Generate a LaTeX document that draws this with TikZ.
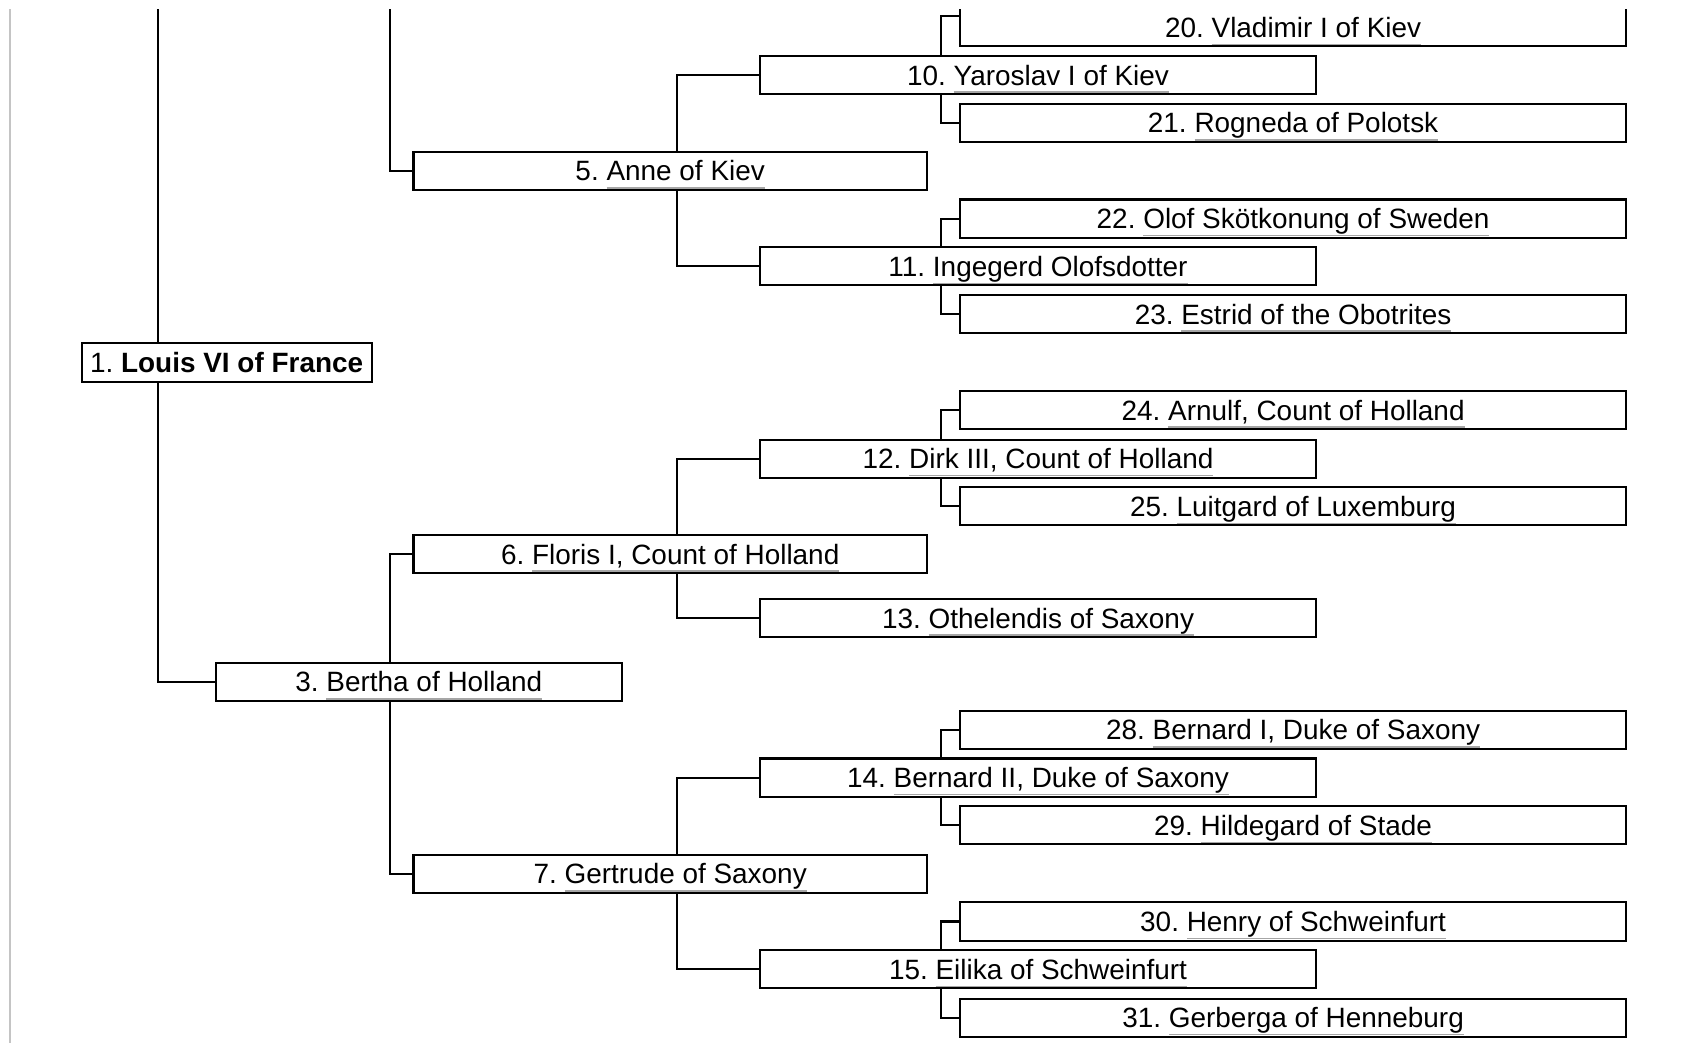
\documentclass[tikz,border=0pt]{standalone}
\usepackage{fontspec}
\setmainfont{Liberation Sans}
\usetikzlibrary{calc}
\definecolor{ulgray}{HTML}{A6A6A6}
\definecolor{edgegray}{HTML}{C4C4C4}
\newcommand\nm[1]{\setbox0\hbox{#1}\rlap{\color{ulgray}\rule[-3.65pt]{\wd0}{0.75pt}}\box0}
\begin{document}
\begin{tikzpicture}[x=0.5pt,y=-0.5pt,
  pbox/.style={draw, line width=0.95pt, inner sep=0pt, outer sep=0pt,
    minimum height=17.75pt, text height=9.3pt, text depth=0pt,
    font=\fontsize{13pt}{15pt}\selectfont\frenchspacing},
  lvA/.style={pbox, minimum width=135pt},
  lvB/.style={pbox, minimum width=189pt},
  lvC/.style={pbox, minimum width=239pt},
  lvD/.style={pbox, minimum width=258.5pt},
  lvE/.style={pbox, minimum width=310pt},
  conn/.style={draw, line width=0.95pt}]
\useasboundingbox (0,0) rectangle (1568,971);
\begin{scope}
\clip (0,9) rectangle (1568,971);
\draw[edgegray, line width=1pt] (9.5,0) -- (9.5,971);
\coordinate (top) at (0,0);
\coordinate (x147) at (147,0);
\coordinate (x363) at (363,0);
\coordinate (x630) at (630,0);
\coordinate (x876) at (876,0);
% level 1
\node[lvA] (b1) at (211,337.5) {1. \textbf{Louis VI of France}};
% level 2
\node[lvB] (b3) at (390,635) {3. \nm{Bertha of Holland}};
% level 3
\node[lvC] (b5) at (624,159) {5. \nm{Anne of Kiev}};
\node[lvC] (b6) at (624,516) {6. \nm{Floris I, Count of Holland}};
\node[lvC] (b7) at (624,813.5) {7. \nm{Gertrude of Saxony}};
% level 4
\node[lvD] (b10) at (966.5,70) {10. \nm{Yaroslav I of Kiev}};
\node[lvD] (b11) at (966.5,248) {11. \nm{Ingegerd Olofsdotter}};
\node[lvD] (b12) at (966.5,427) {12. \nm{Dirk III, Count of Holland}};
\node[lvD] (b13) at (966.5,575.5) {13. \nm{Othelendis of Saxony}};
\node[lvD] (b14) at (966.5,724) {14. \nm{Bernard II, Duke of Saxony}};
\node[lvD] (b15) at (966.5,902.5) {15. \nm{Eilika of Schweinfurt}};
% level 5
\node[lvE] (b20) at (1204,25.5) {20. \nm{Vladimir I of Kiev}};
\node[lvE] (b21) at (1204,114.5) {21. \nm{Rogneda of Polotsk}};
\node[lvE] (b22) at (1204,203.5) {22. \nm{Olof Skötkonung of Sweden}};
\node[lvE] (b23) at (1204,292.5) {23. \nm{Estrid of the Obotrites}};
\node[lvE] (b24) at (1204,382) {24. \nm{Arnulf, Count of Holland}};
\node[lvE] (b25) at (1204,471.5) {25. \nm{Luitgard of Luxemburg}};
\node[lvE] (b28) at (1204,679.5) {28. \nm{Bernard I, Duke of Saxony}};
\node[lvE] (b29) at (1204,768.5) {29. \nm{Hildegard of Stade}};
\node[lvE] (b30) at (1204,858) {30. \nm{Henry of Schweinfurt}};
\node[lvE] (b31) at (1204,947.5) {31. \nm{Gerberga of Henneburg}};
\coordinate (c20) at ($(b20.north west)!0.19!(b20.south west)$);
% connectors
\draw[conn] (b1.north -| x147) -- (top -| x147);
\draw[conn] (b1.south -| x147) |- (b3.west);
\draw[conn] (top -| x363) |- (b5.west);
\draw[conn] (b3.north -| x363) |- (b6.west);
\draw[conn] (b3.south -| x363) |- (b7.west);
\draw[conn] (b5.north -| x630) |- (b10.west);
\draw[conn] (b5.south -| x630) |- (b11.west);
\draw[conn] (b6.north -| x630) |- (b12.west);
\draw[conn] (b6.south -| x630) |- (b13.west);
\draw[conn] (b7.north -| x630) |- (b14.west);
\draw[conn] (b7.south -| x630) |- (b15.west);
\draw[conn] (b10.north -| x876) |- (c20);
\draw[conn] (b10.south -| x876) |- (b21.west);
\draw[conn] (b11.north -| x876) |- (b22.west);
\draw[conn] (b11.south -| x876) |- (b23.west);
\draw[conn] (b12.north -| x876) |- (b24.west);
\draw[conn] (b12.south -| x876) |- (b25.west);
\draw[conn] (b14.north -| x876) |- (b28.west);
\draw[conn] (b14.south -| x876) |- (b29.west);
\draw[conn] (b15.north -| x876) |- (b30.west);
\draw[conn] (b15.south -| x876) |- (b31.west);
\end{scope}
\end{tikzpicture}
\end{document}
